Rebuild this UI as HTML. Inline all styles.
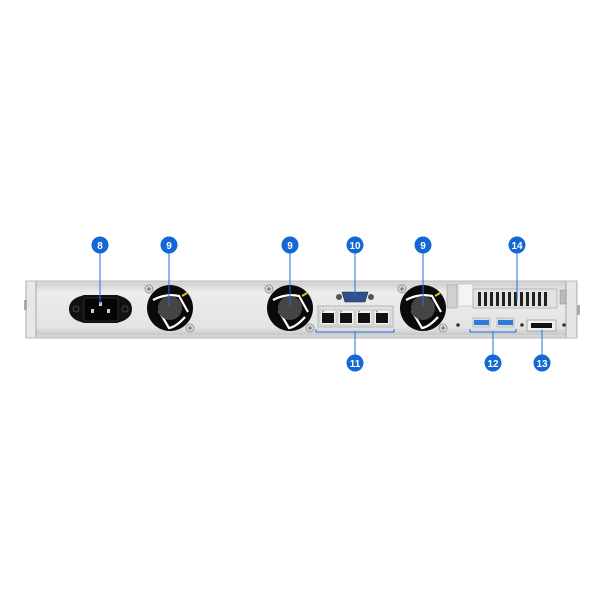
<!DOCTYPE html>
<html><head><meta charset="utf-8"><style>
html,body{margin:0;padding:0;background:#fff;}
svg{display:block;}
text{font-family:"Liberation Sans",sans-serif;font-weight:bold;font-size:10px;fill:#fff;text-anchor:middle;}
</style></head><body>
<svg width="600" height="600" viewBox="0 0 600 600" xmlns="http://www.w3.org/2000/svg">
<defs>
<linearGradient id="panel" x1="0" y1="0" x2="0" y2="1">
<stop offset="0" stop-color="#d2d2d2"/><stop offset="0.15" stop-color="#ececec"/><stop offset="0.85" stop-color="#e4e4e4"/><stop offset="1" stop-color="#c8c8c8"/>
</linearGradient>
<g id="fan">
<circle r="23" fill="#0a0a0a"/>
<path d="M-17,-8 Q-4,-15 9,-12 L18,4" fill="none" stroke="#fff" stroke-width="2.2"/>
<path d="M15,9 Q6,19 -1,20 L-11,3" fill="none" stroke="#fff" stroke-width="2.2"/>
<circle r="12" fill="#454545"/>
<path d="M12,-12 L17,-15" stroke="#e8c020" stroke-width="2"/>
</g>
<g id="screw"><circle r="4" fill="#d8d8d8" stroke="#999" stroke-width="1"/><path d="M-2,0H2M0,-2V2" stroke="#666" stroke-width="1"/></g>
<g id="rj"><rect x="0" y="0" width="16" height="15" fill="#f2f2f2" stroke="#aaa" stroke-width="0.6"/><rect x="2" y="3" width="12" height="10" fill="#111"/><circle cx="3" cy="1.5" r="1" fill="#5c5"/></g>
</defs>
<rect x="26" y="281" width="551" height="57" fill="#d6d6d6"/>
<rect x="36" y="284" width="536" height="51" fill="url(#panel)"/>
<rect x="26" y="281" width="10" height="57" fill="#e8e8e8" stroke="#999" stroke-width="0.8"/>
<rect x="566" y="281" width="11" height="57" fill="#e6e6e6" stroke="#999" stroke-width="0.8"/>
<rect x="24" y="300" width="3" height="10" fill="#aaa"/>
<rect x="577" y="305" width="3" height="10" fill="#aaa"/>
<line x1="26" y1="281" x2="577" y2="281" stroke="#bbb"/>
<line x1="26" y1="338" x2="577" y2="338" stroke="#bbb"/>
<path d="M69,309 Q69,301 78,297 L84,295 H117 L123,297 Q132,301 132,309 Q132,317 123,321 L117,323 H84 L78,321 Q69,317 69,309Z" fill="#111"/>
<rect x="84" y="298" width="34" height="23" rx="2" fill="#050505" stroke="#333" stroke-width="0.8"/>
<rect x="99" y="302" width="3" height="4" fill="#ccc"/><rect x="91" y="309" width="3" height="4" fill="#ccc"/><rect x="107" y="309" width="3" height="4" fill="#ccc"/>
<circle cx="76" cy="309" r="3" fill="none" stroke="#444"/><circle cx="125" cy="309" r="3" fill="none" stroke="#444"/>
<use href="#fan" x="170" y="308"/><use href="#screw" x="149" y="289"/><use href="#screw" x="190" y="328"/>
<use href="#fan" x="290" y="308"/><use href="#screw" x="269" y="289"/><use href="#screw" x="310" y="328"/>
<use href="#fan" x="423" y="308"/><use href="#screw" x="402" y="289"/><use href="#screw" x="443" y="328"/>
<circle cx="339" cy="297" r="3" fill="#555"/><circle cx="371" cy="297" r="3" fill="#555"/>
<path d="M342,292 H368 L365,302 H345Z" fill="#2f4f8f" stroke="#233" stroke-width="0.6"/>
<rect x="318" y="306" width="75" height="21" fill="#e0e0e0" stroke="#aaa" stroke-width="0.8"/>
<use href="#rj" x="320" y="310"/><use href="#rj" x="338" y="310"/><use href="#rj" x="356" y="310"/><use href="#rj" x="374" y="310"/>
<path d="M316,329 V332 H394 V329" fill="none" stroke="#1a73e8" stroke-width="1"/>
<rect x="447" y="285" width="10" height="23" fill="#d0d0d0" stroke="#999" stroke-width="0.5"/>
<rect x="458" y="284" width="15" height="22" fill="#f4f4f4" stroke="#bbb" stroke-width="0.6"/>
<rect x="473" y="289" width="84" height="19" fill="#e2e2e2" stroke="#999" stroke-width="0.6"/>
<g fill="#222">
<rect x="478" y="292" width="3" height="14"/><rect x="484" y="292" width="3" height="14"/><rect x="490" y="292" width="3" height="14"/><rect x="496" y="292" width="3" height="14"/><rect x="502" y="292" width="3" height="14"/><rect x="508" y="292" width="3" height="14"/><rect x="514" y="292" width="3" height="14"/><rect x="520" y="292" width="3" height="14"/><rect x="526" y="292" width="3" height="14"/><rect x="532" y="292" width="3" height="14"/><rect x="538" y="292" width="3" height="14"/><rect x="544" y="292" width="3" height="14"/>
</g>
<rect x="560" y="290" width="6" height="14" fill="#bbb" stroke="#888" stroke-width="0.5"/>
<circle cx="458" cy="325" r="1.8" fill="#333"/>
<rect x="473" y="318" width="17" height="9" fill="#ddd" stroke="#999" stroke-width="0.5"/><rect x="474" y="320" width="15" height="5" fill="#2a7ae0"/>
<rect x="497" y="318" width="17" height="9" fill="#ddd" stroke="#999" stroke-width="0.5"/><rect x="498" y="320" width="15" height="5" fill="#2a7ae0"/>
<circle cx="522" cy="325" r="1.8" fill="#333"/>
<rect x="527" y="320" width="29" height="11" fill="#eee" stroke="#999" stroke-width="0.8"/><rect x="531" y="323" width="21" height="5" fill="#111"/>
<circle cx="564" cy="325" r="1.8" fill="#333"/>
<path d="M470,329 V332 H516 V329" fill="none" stroke="#1a73e8" stroke-width="1"/>
<g stroke="#1a73e8" stroke-width="1">
<line x1="100" y1="245" x2="100" y2="304"/>
<line x1="169" y1="245" x2="169" y2="306"/>
<line x1="290" y1="245" x2="290" y2="306"/>
<line x1="355" y1="245" x2="355" y2="296"/>
<line x1="423" y1="245" x2="423" y2="306"/>
<line x1="517" y1="245" x2="517" y2="300"/>
<line x1="355" y1="332" x2="355" y2="363"/>
<line x1="493" y1="332" x2="493" y2="363"/>
<line x1="542" y1="330" x2="542" y2="363"/>
</g>
<g fill="#1468d4">
<circle cx="100" cy="245" r="8.5"/><circle cx="169" cy="245" r="8.5"/><circle cx="290" cy="245" r="8.5"/><circle cx="355" cy="245" r="8.5"/><circle cx="423" cy="245" r="8.5"/><circle cx="517" cy="245" r="8.5"/>
<circle cx="355" cy="363" r="8.5"/><circle cx="493" cy="363" r="8.5"/><circle cx="542" cy="363" r="8.5"/>
</g>
<text x="100" y="249">8</text><text x="169" y="249">9</text><text x="290" y="249">9</text><text x="355" y="249">10</text><text x="423" y="249">9</text><text x="517" y="249">14</text>
<text x="355" y="367">11</text><text x="493" y="367">12</text><text x="542" y="367">13</text>
</svg>
</body></html>
